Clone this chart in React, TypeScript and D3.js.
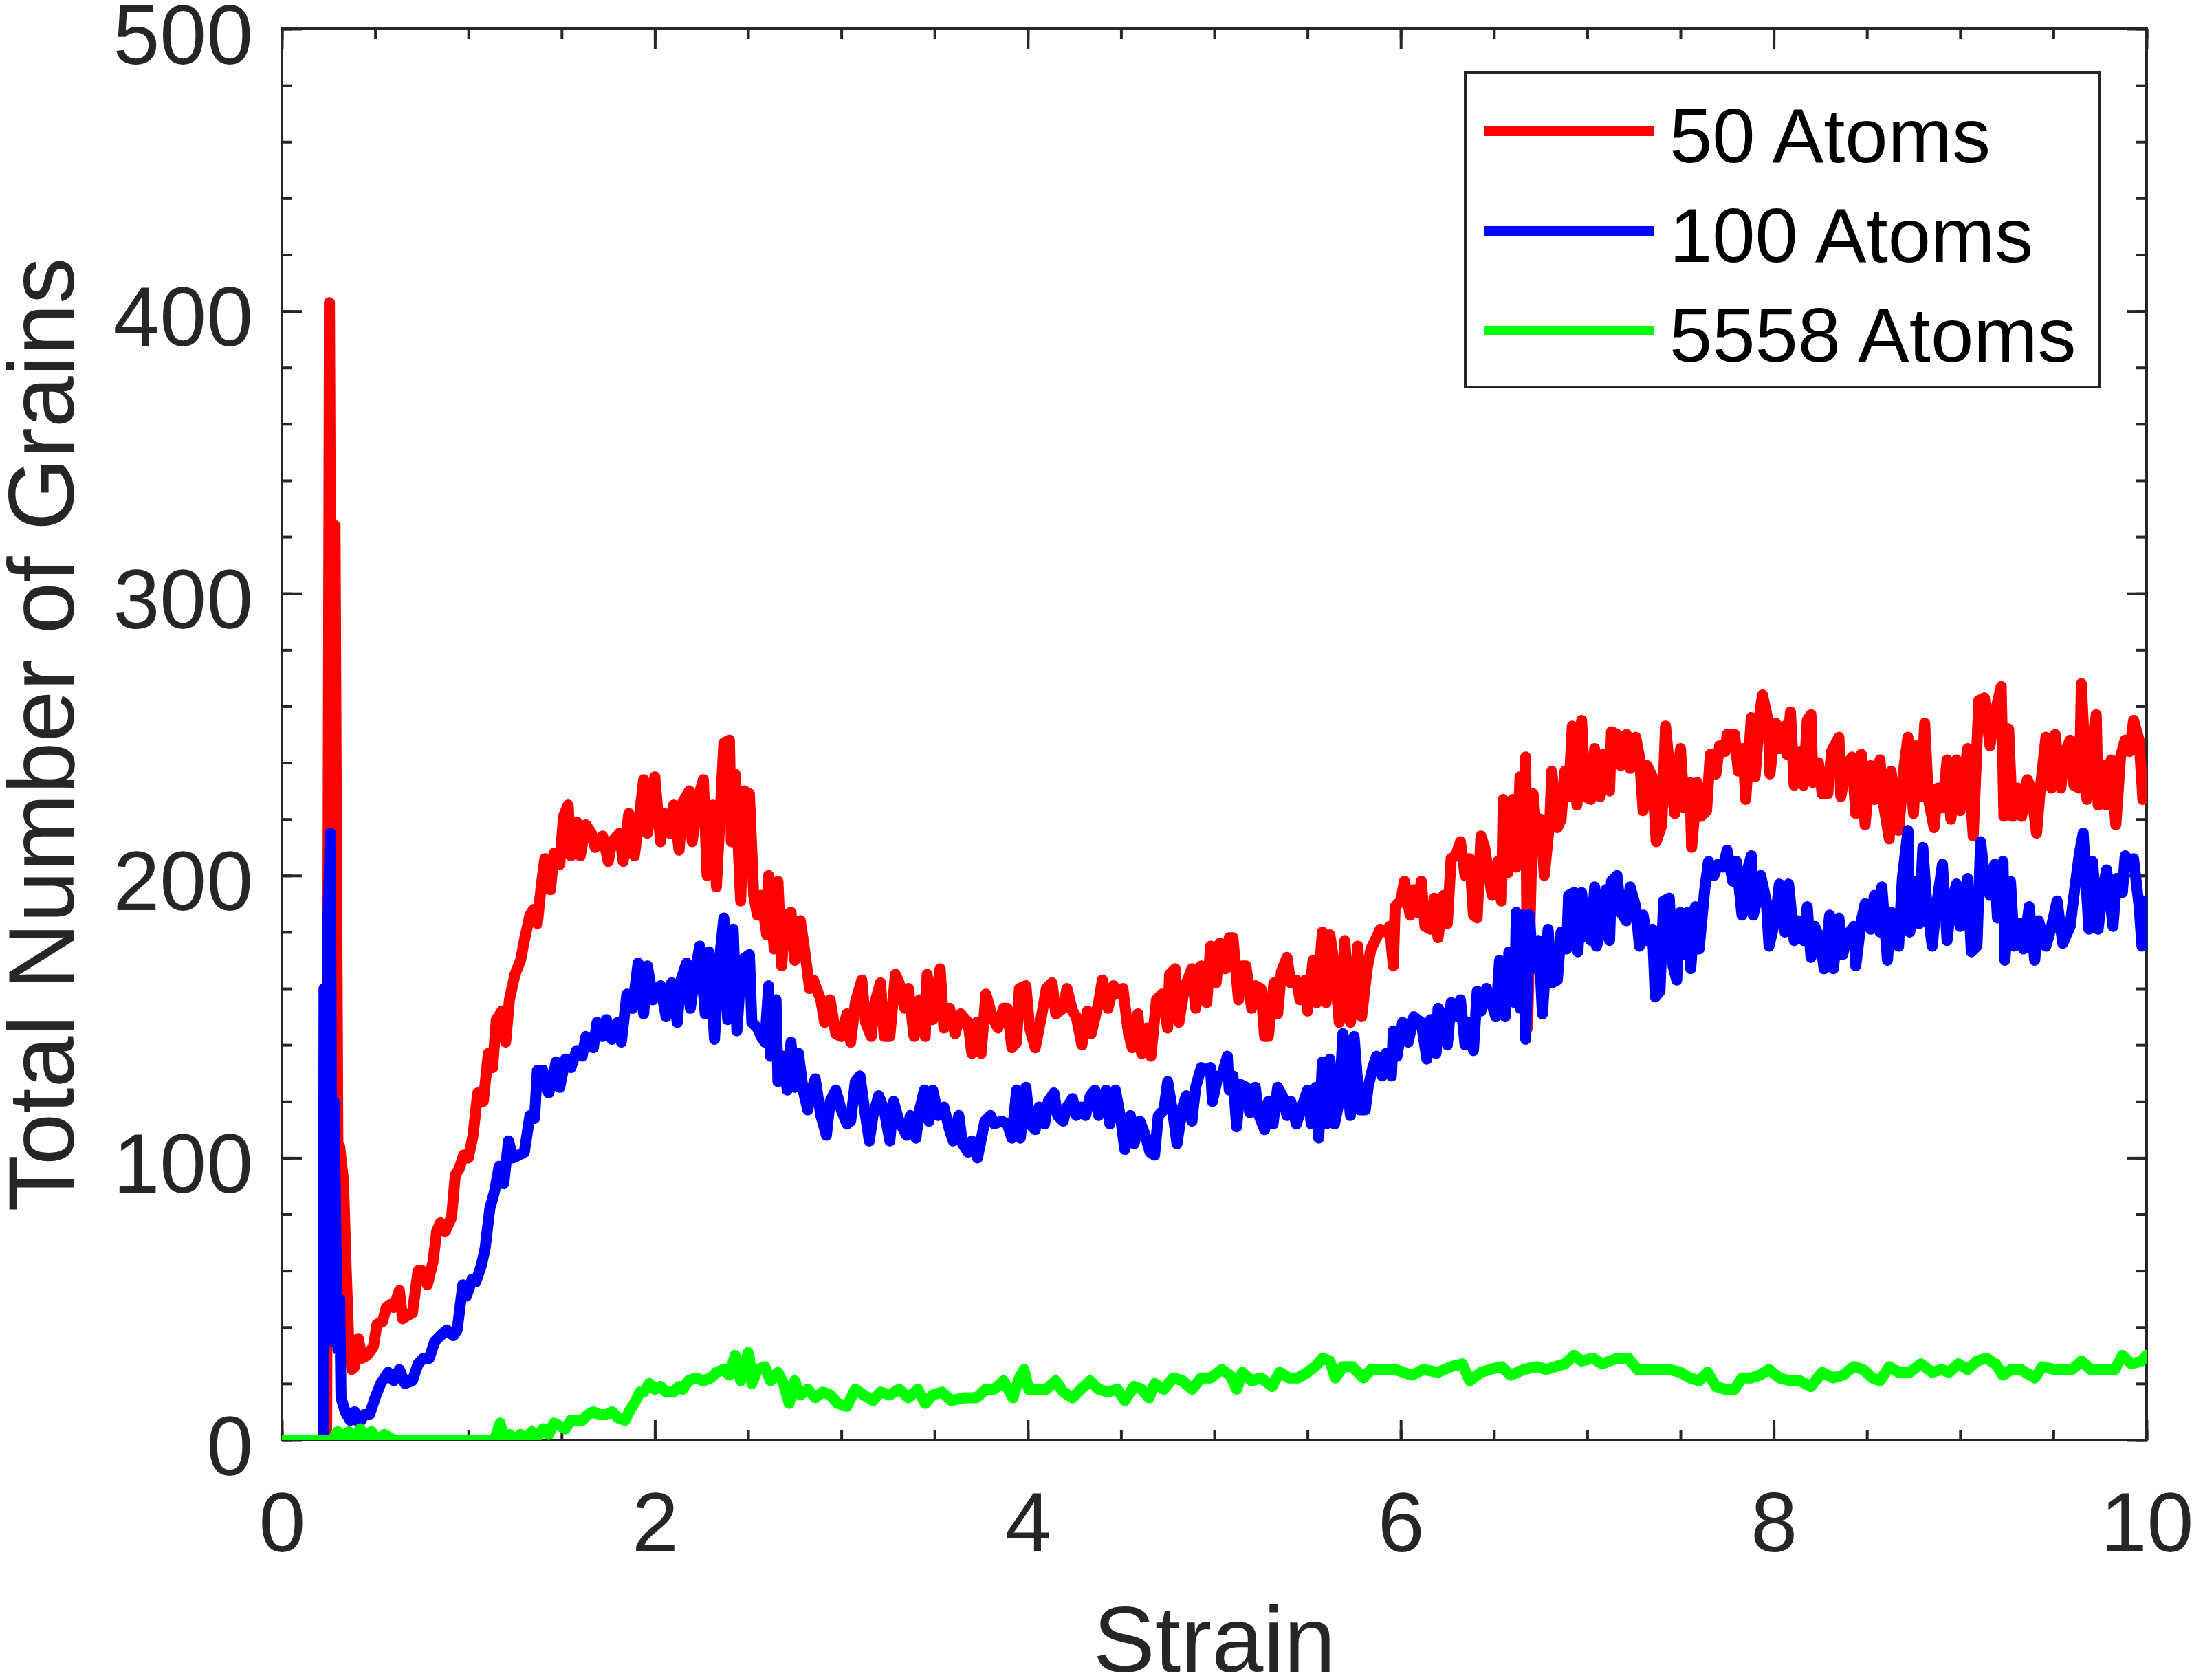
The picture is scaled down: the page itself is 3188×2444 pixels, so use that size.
import { useEffect, useRef } from 'react';

import {
  axisBottom,
  axisLeft,
  axisRight,
  axisTop,
  line,
  range,
  scaleLinear,
  select,
} from 'd3';

type Point = [number, number];

const xMajor = [0, 2, 4, 6, 8, 10];
const xMinor = range(0, 10.001, 0.5);
const yMajor = [0, 100, 200, 300, 400, 500];
const yMinor = range(0, 500.1, 20);

const seriesNames = ['50 Atoms', '100 Atoms', '5558 Atoms'];
const seriesColors = ['#ff0000', '#0000ff', '#00ff00'];

// [strain, grains]
const atoms50: Point[] = [
  [0, 0], [0.24, 0], [0.255, 403], [0.265, 230], [0.275, 160], [0.285, 324], [0.3, 105], [0.31, 104],
  [0.33, 92], [0.345, 60], [0.358, 36], [0.375, 25], [0.39, 26], [0.41, 36], [0.43, 29], [0.457, 30],
  [0.49, 33], [0.51, 41], [0.54, 42], [0.56, 47], [0.58, 48], [0.6, 47], [0.63, 53], [0.647, 43],
  [0.67, 44], [0.7, 45], [0.73, 60], [0.75, 60], [0.78, 55], [0.81, 63], [0.83, 74], [0.85, 77],
  [0.876, 74], [0.91, 79], [0.93, 94], [0.95, 96], [0.975, 101], [1.0, 100], [1.025, 108], [1.05, 123],
  [1.08, 120], [1.107, 137], [1.13, 132], [1.15, 149], [1.18, 152], [1.2, 141], [1.22, 156], [1.25, 165],
  [1.28, 170], [1.3, 177], [1.33, 186], [1.35, 188], [1.37, 183], [1.39, 196], [1.41, 206], [1.44, 195],
  [1.46, 208], [1.49, 204], [1.51, 221], [1.535, 225], [1.55, 207], [1.58, 219], [1.6, 207], [1.63, 218],
  [1.66, 215], [1.68, 210], [1.72, 214], [1.75, 205], [1.77, 212], [1.81, 215], [1.83, 205], [1.86, 222],
  [1.89, 207], [1.91, 217], [1.94, 234], [1.96, 215], [2.0, 235], [2.03, 212], [2.05, 222], [2.08, 215],
  [2.1, 225], [2.13, 209], [2.15, 226], [2.185, 230], [2.2, 212], [2.23, 227], [2.26, 234], [2.28, 200],
  [2.31, 225], [2.33, 196], [2.37, 247], [2.4, 248], [2.41, 212], [2.43, 236], [2.46, 191], [2.48, 230],
  [2.507, 229], [2.53, 193], [2.55, 186], [2.57, 193], [2.6, 179], [2.61, 200], [2.64, 174], [2.66, 198],
  [2.68, 168], [2.7, 186], [2.73, 187], [2.75, 170], [2.78, 184], [2.8, 175], [2.83, 160], [2.85, 163],
  [2.89, 156], [2.91, 148], [2.94, 156], [2.97, 144], [3.0, 143], [3.03, 151], [3.05, 141], [3.075, 155],
  [3.11, 163], [3.13, 148], [3.16, 143], [3.18, 155], [3.21, 162], [3.23, 143], [3.26, 143], [3.29, 165],
  [3.31, 162], [3.34, 153], [3.36, 160], [3.39, 143], [3.42, 156], [3.45, 143], [3.46, 165], [3.49, 149],
  [3.53, 167], [3.55, 146], [3.58, 153], [3.61, 144], [3.64, 151], [3.68, 148], [3.7, 137], [3.725, 148],
  [3.75, 137], [3.775, 158], [3.81, 150], [3.84, 146], [3.87, 153], [3.89, 153], [3.915, 139], [3.94, 141],
  [3.955, 160], [3.99, 161], [4.01, 146], [4.04, 139], [4.07, 149], [4.1, 160], [4.13, 162], [4.15, 151],
  [4.19, 153], [4.21, 160], [4.24, 152], [4.26, 150], [4.29, 140], [4.32, 152], [4.34, 144], [4.38, 155],
  [4.4, 163], [4.43, 153], [4.46, 161], [4.48, 158], [4.51, 160], [4.54, 144], [4.56, 139], [4.59, 151],
  [4.61, 137], [4.64, 146], [4.66, 136], [4.69, 156], [4.72, 158], [4.75, 146], [4.76, 165], [4.79, 167],
  [4.81, 148], [4.84, 160], [4.88, 167], [4.9, 153], [4.93, 168], [4.96, 155], [4.98, 175], [5.01, 162],
  [5.03, 176], [5.06, 167], [5.08, 178], [5.1, 178], [5.13, 156], [5.15, 168], [5.17, 168], [5.2, 153],
  [5.22, 161], [5.25, 160], [5.27, 143], [5.29, 143], [5.32, 162], [5.34, 151], [5.36, 166], [5.39, 171],
  [5.41, 162], [5.44, 163], [5.46, 156], [5.49, 163], [5.5, 152], [5.53, 170], [5.55, 155], [5.58, 180],
  [5.6, 155], [5.62, 179], [5.645, 168], [5.67, 148], [5.69, 155], [5.7, 177], [5.73, 148], [5.75, 158],
  [5.77, 175], [5.79, 150], [5.82, 167], [5.84, 174], [5.87, 178], [5.89, 181], [5.92, 180], [5.94, 182],
  [5.96, 168], [5.97, 189], [6.0, 191], [6.02, 198], [6.05, 186], [6.07, 195], [6.09, 187], [6.11, 198],
  [6.13, 182], [6.16, 181], [6.18, 192], [6.2, 178], [6.23, 193], [6.25, 183], [6.27, 206], [6.295, 207],
  [6.32, 212], [6.345, 200], [6.37, 206], [6.39, 186], [6.41, 185], [6.43, 214], [6.45, 210], [6.47, 201],
  [6.49, 193], [6.52, 205], [6.54, 191], [6.55, 227], [6.575, 201], [6.6, 227], [6.62, 203], [6.64, 235],
  [6.66, 204], [6.67, 242], [6.68, 146], [6.71, 229], [6.73, 213], [6.75, 220], [6.77, 200], [6.8, 220],
  [6.81, 237], [6.84, 217], [6.86, 220], [6.88, 237], [6.9, 228], [6.92, 253], [6.945, 225], [6.97, 255],
  [6.99, 228], [7.02, 227], [7.04, 245], [7.07, 228], [7.09, 243], [7.12, 230], [7.13, 251], [7.16, 250],
  [7.18, 239], [7.21, 250], [7.23, 238], [7.26, 249], [7.28, 242], [7.3, 223], [7.32, 239], [7.35, 235],
  [7.37, 212], [7.4, 218], [7.42, 253], [7.45, 232], [7.47, 222], [7.5, 245], [7.52, 224], [7.55, 233],
  [7.56, 210], [7.59, 233], [7.61, 221], [7.64, 223], [7.66, 243], [7.69, 236], [7.71, 246], [7.74, 244],
  [7.75, 250], [7.79, 250], [7.81, 237], [7.835, 245], [7.85, 227], [7.88, 256], [7.9, 235], [7.925, 257],
  [7.94, 264], [7.97, 255], [7.98, 236], [8.01, 254], [8.03, 245], [8.06, 253], [8.07, 243], [8.09, 258],
  [8.11, 232], [8.14, 244], [8.16, 232], [8.18, 255], [8.2, 257], [8.21, 233], [8.24, 240], [8.26, 229],
  [8.29, 229], [8.31, 244], [8.35, 249], [8.36, 228], [8.39, 239], [8.42, 242], [8.44, 222], [8.47, 243],
  [8.49, 218], [8.52, 239], [8.54, 227], [8.57, 241], [8.59, 225], [8.62, 213], [8.63, 237], [8.67, 216],
  [8.7, 239], [8.72, 249], [8.75, 222], [8.765, 246], [8.79, 228], [8.81, 254], [8.83, 227], [8.86, 217],
  [8.88, 231], [8.905, 224], [8.93, 241], [8.95, 220], [8.98, 241], [9.0, 223], [9.04, 245], [9.07, 214],
  [9.1, 262], [9.13, 263], [9.16, 246], [9.185, 257], [9.22, 267], [9.235, 221], [9.26, 252], [9.28, 221],
  [9.31, 231], [9.33, 221], [9.36, 234], [9.38, 231], [9.41, 215], [9.43, 231], [9.46, 249], [9.49, 231],
  [9.51, 250], [9.54, 231], [9.56, 243], [9.59, 248], [9.61, 232], [9.64, 231], [9.65, 268], [9.68, 227],
  [9.7, 244], [9.73, 257], [9.74, 225], [9.77, 239], [9.785, 225], [9.81, 241], [9.835, 218], [9.86, 242],
  [9.885, 248], [9.91, 244], [9.93, 255], [9.96, 248], [9.98, 227], [10.0, 233],
];

const atoms100: Point[] = [
  [0, 0], [0.222, 0], [0.226, 160], [0.235, 40], [0.245, 180], [0.26, 215], [0.27, 35], [0.28, 120],
  [0.29, 70], [0.3, 32], [0.31, 50], [0.317, 15], [0.34, 10], [0.366, 7], [0.39, 10], [0.415, 6],
  [0.44, 9], [0.47, 9], [0.5, 15], [0.53, 20], [0.57, 24], [0.6, 21], [0.63, 25], [0.66, 20],
  [0.7, 21], [0.73, 27], [0.76, 29], [0.79, 29], [0.82, 35], [0.85, 37], [0.885, 39], [0.92, 37],
  [0.94, 39], [0.97, 55], [0.99, 51], [1.02, 57], [1.04, 56], [1.07, 62], [1.09, 68], [1.115, 82],
  [1.14, 88], [1.165, 97], [1.19, 91], [1.215, 106], [1.24, 100], [1.27, 101], [1.3, 102], [1.33, 115],
  [1.355, 114], [1.37, 131], [1.4, 131], [1.43, 123], [1.45, 127], [1.47, 134], [1.49, 125], [1.52, 135],
  [1.55, 132], [1.58, 138], [1.61, 136], [1.63, 143], [1.67, 139], [1.69, 148], [1.72, 143], [1.74, 149],
  [1.77, 142], [1.8, 148], [1.82, 141], [1.85, 158], [1.88, 153], [1.91, 169], [1.94, 151], [1.96, 168],
  [1.99, 156], [2.03, 161], [2.06, 150], [2.09, 162], [2.12, 148], [2.14, 163], [2.17, 169], [2.19, 153],
  [2.22, 167], [2.24, 175], [2.27, 151], [2.29, 173], [2.32, 142], [2.34, 166], [2.37, 185], [2.39, 149],
  [2.42, 181], [2.44, 145], [2.465, 170], [2.507, 172], [2.52, 148], [2.55, 146], [2.57, 143], [2.59, 141],
  [2.61, 161], [2.62, 136], [2.65, 156], [2.66, 127], [2.69, 136], [2.71, 124], [2.73, 141], [2.75, 125],
  [2.77, 137], [2.795, 124], [2.82, 117], [2.84, 124], [2.86, 128], [2.89, 115], [2.92, 108], [2.94, 120],
  [2.97, 124], [3.0, 117], [3.03, 112], [3.05, 113], [3.075, 127], [3.1, 129], [3.125, 117], [3.15, 106],
  [3.17, 115], [3.2, 122], [3.23, 117], [3.26, 106], [3.28, 120], [3.31, 113], [3.35, 108], [3.37, 115],
  [3.4, 107], [3.42, 117], [3.445, 124], [3.47, 113], [3.49, 124], [3.52, 115], [3.55, 118], [3.58, 110],
  [3.6, 106], [3.63, 115], [3.65, 105], [3.68, 102], [3.7, 106], [3.73, 100], [3.77, 113], [3.8, 115],
  [3.82, 112], [3.86, 113], [3.89, 112], [3.915, 107], [3.94, 124], [3.96, 107], [3.99, 125], [4.01, 112],
  [4.04, 110], [4.06, 118], [4.09, 112], [4.11, 120], [4.14, 123], [4.16, 115], [4.19, 113], [4.21, 118],
  [4.24, 121], [4.26, 115], [4.285, 118], [4.31, 115], [4.335, 122], [4.36, 124], [4.38, 115], [4.42, 124],
  [4.44, 112], [4.47, 124], [4.5, 113], [4.52, 103], [4.55, 115], [4.57, 105], [4.6, 113], [4.63, 108],
  [4.655, 102], [4.68, 101], [4.7, 115], [4.73, 117], [4.75, 127], [4.78, 115], [4.8, 105], [4.83, 118],
  [4.85, 122], [4.88, 113], [4.9, 125], [4.93, 132], [4.95, 131], [4.98, 132], [4.99, 120], [5.02, 129],
  [5.04, 129], [5.07, 136], [5.08, 124], [5.1, 129], [5.12, 111], [5.14, 126], [5.17, 125], [5.19, 116],
  [5.22, 125], [5.24, 115], [5.27, 110], [5.29, 120], [5.315, 112], [5.34, 125], [5.365, 122], [5.39, 115],
  [5.41, 120], [5.44, 112], [5.46, 116], [5.5, 124], [5.52, 112], [5.545, 125], [5.56, 107], [5.58, 134],
  [5.6, 112], [5.62, 135], [5.645, 112], [5.67, 120], [5.69, 144], [5.73, 115], [5.75, 143], [5.78, 117],
  [5.81, 117], [5.825, 125], [5.85, 132], [5.87, 136], [5.9, 129], [5.92, 137], [5.95, 129], [5.96, 145],
  [5.98, 136], [6.01, 148], [6.04, 141], [6.07, 150], [6.11, 148], [6.14, 135], [6.16, 149], [6.19, 137],
  [6.2, 153], [6.23, 150], [6.25, 140], [6.27, 155], [6.3, 150], [6.32, 156], [6.345, 140], [6.37, 148],
  [6.39, 138], [6.41, 159], [6.43, 152], [6.46, 160], [6.48, 156], [6.51, 150], [6.53, 170], [6.56, 150],
  [6.58, 173], [6.61, 155], [6.62, 187], [6.64, 153], [6.66, 186], [6.67, 142], [6.69, 186], [6.71, 167],
  [6.74, 177], [6.76, 151], [6.79, 181], [6.81, 162], [6.84, 163], [6.86, 180], [6.89, 174], [6.9, 193],
  [6.93, 194], [6.95, 173], [6.97, 194], [6.99, 179], [7.02, 177], [7.04, 196], [7.05, 175], [7.08, 182],
  [7.1, 195], [7.12, 177], [7.13, 198], [7.16, 200], [7.18, 187], [7.21, 184], [7.23, 196], [7.26, 189],
  [7.28, 175], [7.3, 186], [7.32, 177], [7.35, 181], [7.365, 157], [7.39, 159], [7.41, 191], [7.44, 192],
  [7.46, 168], [7.48, 163], [7.5, 187], [7.52, 172], [7.54, 187], [7.555, 167], [7.58, 189], [7.6, 174],
  [7.63, 195], [7.65, 205], [7.68, 200], [7.7, 204], [7.73, 203], [7.75, 209], [7.78, 198], [7.8, 205],
  [7.83, 186], [7.85, 200], [7.88, 207], [7.89, 186], [7.92, 194], [7.93, 200], [7.96, 191], [7.975, 175],
  [8.01, 185], [8.03, 197], [8.06, 180], [8.08, 197], [8.11, 177], [8.13, 184], [8.16, 177], [8.18, 189],
  [8.2, 171], [8.22, 182], [8.25, 177], [8.27, 167], [8.3, 186], [8.32, 167], [8.35, 185], [8.37, 172],
  [8.395, 179], [8.43, 182], [8.44, 168], [8.47, 184], [8.49, 190], [8.52, 181], [8.54, 193], [8.57, 180],
  [8.58, 196], [8.61, 170], [8.63, 187], [8.67, 175], [8.69, 199], [8.72, 216], [8.73, 180], [8.76, 198],
  [8.78, 183], [8.8, 210], [8.82, 191], [8.85, 175], [8.87, 188], [8.905, 204], [8.93, 177], [8.95, 189],
  [8.98, 197], [9.0, 182], [9.04, 199], [9.06, 173], [9.09, 175], [9.11, 212], [9.135, 197], [9.16, 193],
  [9.185, 204], [9.2, 185], [9.23, 205], [9.24, 170], [9.27, 198], [9.29, 175], [9.32, 183], [9.34, 174],
  [9.37, 189], [9.4, 170], [9.42, 184], [9.46, 175], [9.49, 182], [9.52, 191], [9.55, 176], [9.59, 182],
  [9.61, 193], [9.64, 208], [9.66, 215], [9.69, 181], [9.71, 205], [9.74, 181], [9.76, 193], [9.785, 202],
  [9.82, 182], [9.84, 199], [9.87, 194], [9.885, 207], [9.91, 205], [9.93, 206], [9.96, 189], [9.975, 175],
  [10.0, 191],
];

const atoms5558: Point[] = [
  [0, 0], [0.25, 0], [0.26, 0], [0.28, 1], [0.3, 3], [0.33, 1], [0.36, 3], [0.39, 0], [0.42, 4],
  [0.45, 1], [0.48, 3], [0.51, 0], [0.55, 2], [0.6, 0], [1.14, 0], [1.17, 6], [1.19, 1], [1.22, 2],
  [1.25, 0], [1.28, 2], [1.31, 0], [1.34, 3], [1.37, 1], [1.4, 4], [1.43, 2], [1.46, 6], [1.49, 5],
  [1.52, 4], [1.55, 7], [1.58, 7], [1.61, 7], [1.64, 9], [1.67, 10], [1.7, 9], [1.74, 9], [1.77, 10],
  [1.8, 8], [1.84, 7], [1.87, 11], [1.89, 13], [1.92, 17], [1.94, 17], [1.97, 20], [2.0, 18], [2.03, 19],
  [2.06, 17], [2.1, 17], [2.13, 19], [2.15, 18], [2.18, 21], [2.22, 22], [2.26, 21], [2.3, 22], [2.33, 24],
  [2.37, 25], [2.4, 23], [2.43, 30], [2.46, 21], [2.48, 25], [2.5, 31], [2.507, 29], [2.52, 20], [2.55, 25],
  [2.59, 26], [2.62, 21], [2.66, 24], [2.69, 20], [2.72, 13], [2.75, 21], [2.78, 16], [2.82, 18], [2.86, 15],
  [2.9, 17], [2.94, 16], [2.98, 13], [3.03, 12], [3.075, 18], [3.12, 16], [3.17, 14], [3.21, 17], [3.26, 16],
  [3.31, 18], [3.36, 15], [3.41, 18], [3.45, 13], [3.49, 16], [3.54, 17], [3.59, 14], [3.66, 15], [3.725, 15],
  [3.775, 18], [3.82, 18], [3.87, 21], [3.92, 15], [3.955, 22], [3.98, 25], [4.005, 18], [4.05, 18], [4.1, 18],
  [4.15, 21], [4.19, 17], [4.24, 15], [4.285, 18], [4.335, 21], [4.38, 18], [4.43, 17], [4.48, 18], [4.52, 14],
  [4.57, 19], [4.61, 18], [4.65, 15], [4.68, 20], [4.73, 18], [4.78, 22], [4.83, 21], [4.88, 18], [4.93, 22],
  [4.98, 22], [5.04, 25], [5.085, 23], [5.12, 18], [5.15, 24], [5.2, 21], [5.25, 22], [5.31, 19], [5.35, 24],
  [5.4, 22], [5.45, 22], [5.5, 24], [5.54, 26], [5.58, 29], [5.62, 28], [5.65, 22], [5.69, 26], [5.74, 26],
  [5.8, 22], [5.84, 25], [5.91, 25], [5.97, 25], [6.06, 23], [6.12, 25], [6.2, 24], [6.27, 26], [6.33, 27],
  [6.37, 21], [6.43, 24], [6.48, 25], [6.54, 26], [6.59, 23], [6.66, 25], [6.73, 26], [6.78, 25], [6.83, 26],
  [6.88, 27], [6.93, 30], [6.97, 28], [7.03, 29], [7.08, 27], [7.16, 29], [7.22, 29], [7.27, 25], [7.36, 25],
  [7.44, 25], [7.5, 24], [7.55, 22], [7.6, 21], [7.645, 24], [7.69, 19], [7.74, 18], [7.79, 18], [7.83, 22],
  [7.88, 22], [7.925, 23], [7.975, 25], [8.03, 22], [8.09, 21], [8.14, 21], [8.2, 19], [8.26, 24], [8.32, 22],
  [8.37, 23], [8.43, 26], [8.48, 25], [8.53, 22], [8.57, 21], [8.62, 26], [8.67, 24], [8.73, 24], [8.79, 27],
  [8.85, 24], [8.9, 25], [8.94, 24], [8.99, 27], [9.04, 25], [9.09, 28], [9.14, 29], [9.19, 27], [9.23, 23],
  [9.275, 25], [9.325, 25], [9.4, 22], [9.44, 26], [9.505, 25], [9.555, 25], [9.6, 25], [9.65, 28], [9.7, 25],
  [9.75, 25], [9.83, 25], [9.87, 30], [9.92, 27], [9.97, 28], [10.0, 30],
];

const series = [atoms50, atoms100, atoms5558];

const ink = '#262626';
const font = '"Liberation Sans", Arial, Helvetica, sans-serif';

export default function App() {
  const svgRef = useRef<SVGSVGElement>(null);

  useEffect(() => {
    const el = svgRef.current;
    if (!el) return;

    const W = 3188,
      H = 2444;
    const margin = { top: 42, right: 66, bottom: 349, left: 410 };
    const width = W - margin.left - margin.right;
    const height = H - margin.top - margin.bottom;

    const svg = select(el);
    svg.selectAll('*').remove();

    const g = svg
      .append('g')
      .attr('transform', `translate(${margin.left},${margin.top})`);

    const x = scaleLinear().domain([0, 10]).range([0, width]);
    const y = scaleLinear().domain([0, 500]).range([height, 0]);

    const styleAxis = (sel: any) => {
      sel.select('.domain').remove();
      sel.selectAll('line').attr('stroke', ink).attr('stroke-width', 4);
      sel
        .selectAll('text')
        .attr('font-family', font)
        .attr('font-size', 122)
        .attr('fill', ink);
    };

    // minor ticks, all four sides, pointing inward
    const minorLen = -15;
    const majorLen = -29;
    g.append('g')
      .attr('transform', `translate(0,${height})`)
      .call(axisBottom(x).tickValues(xMinor).tickSize(minorLen).tickFormat(() => ''))
      .call(styleAxis);
    g.append('g')
      .call(axisTop(x).tickValues(xMinor).tickSize(minorLen).tickFormat(() => ''))
      .call(styleAxis);
    g.append('g')
      .call(axisLeft(y).tickValues(yMinor).tickSize(minorLen).tickFormat(() => ''))
      .call(styleAxis);
    g.append('g')
      .attr('transform', `translate(${width},0)`)
      .call(axisRight(y).tickValues(yMinor).tickSize(minorLen).tickFormat(() => ''))
      .call(styleAxis);

    // major ticks with labels
    g.append('g')
      .attr('transform', `translate(0,${height})`)
      .call(axisBottom(x).tickValues(xMajor).tickSize(majorLen).tickPadding(75).tickFormat((d) => `${d}`))
      .call(styleAxis);
    g.append('g')
      .call(axisTop(x).tickValues(xMajor).tickSize(majorLen).tickFormat(() => ''))
      .call(styleAxis);
    g.append('g')
      .call(axisLeft(y).tickValues(yMajor).tickSize(majorLen).tickPadding(42).tickFormat((d) => `${d}`))
      .call(styleAxis)
      .call((s) => s.selectAll('text').attr('dy', '0.41em'));
    g.append('g')
      .attr('transform', `translate(${width},0)`)
      .call(axisRight(y).tickValues(yMajor).tickSize(majorLen).tickFormat(() => ''))
      .call(styleAxis);

    // box
    g.append('rect')
      .attr('width', width)
      .attr('height', height)
      .attr('fill', 'none')
      .attr('stroke', ink)
      .attr('stroke-width', 4);

    // data
    g.append('clipPath')
      .attr('id', 'plot-clip')
      .append('rect')
      .attr('width', width)
      .attr('height', height);

    const path = line<Point>()
      .x((d) => x(d[0]))
      .y((d) => y(d[1]));

    g.append('g')
      .attr('clip-path', 'url(#plot-clip)')
      .selectAll('path')
      .data(series)
      .join('path')
      .attr('d', (d) => path(d))
      .attr('fill', 'none')
      .attr('stroke', (_, i) => seriesColors[i])
      .attr('stroke-width', 16)
      .attr('stroke-linejoin', 'round')
      .attr('stroke-linecap', 'round');

    // axis titles
    svg
      .append('text')
      .attr('x', margin.left + width / 2)
      .attr('y', 2432)
      .attr('text-anchor', 'middle')
      .attr('font-family', font)
      .attr('font-size', 135)
      .attr('fill', ink)
      .text('Strain');

    svg
      .append('text')
      .attr('transform', `translate(107,${margin.top + height / 2}) rotate(-90)`)
      .attr('text-anchor', 'middle')
      .attr('font-family', font)
      .attr('font-size', 135)
      .attr('fill', ink)
      .text('Total Number of Grains');

    // legend
    const legend = svg.append('g').attr('transform', 'translate(2131,106)');
    legend
      .append('rect')
      .attr('width', 923)
      .attr('height', 457)
      .attr('fill', '#ffffff')
      .attr('stroke', ink)
      .attr('stroke-width', 4);

    const rows = legend
      .selectAll('g.row')
      .data(seriesNames)
      .join('g')
      .attr('class', 'row')
      .attr('transform', (_, i) => `translate(0,${85 + i * 145})`);

    rows
      .append('line')
      .attr('x1', 28)
      .attr('x2', 274)
      .attr('stroke', (_, i) => seriesColors[i])
      .attr('stroke-width', 14);

    rows
      .append('text')
      .attr('x', 297)
      .attr('y', 45)
      .attr('font-family', font)
      .attr('font-size', 112)
      .attr('fill', '#000000')
      .text((d) => d);
  }, []);

  return (
    <svg
      ref={svgRef}
      width={3188}
      height={2444}
      style={{ position: 'absolute', left: 0, top: 0, background: '#ffffff' }}
    />
  );
}
